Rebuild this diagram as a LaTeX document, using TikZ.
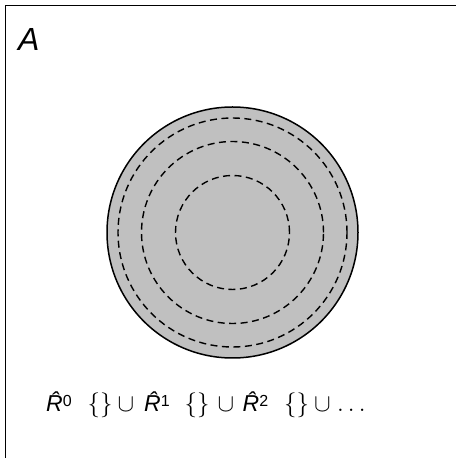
\documentclass[tikz,border=0pt]{standalone}
\usepackage{amsmath}
\usepackage{fontspec}
\setmainfont{Liberation Sans}
\definecolor{discgray}{RGB}{192,192,192}
\newcommand{\Rsup}[1]{{\itshape\^{R}}\raisebox{5.5pt}{\fontsize{16}{16}\selectfont #1}}
\tikzset{
  frameline/.style={line width=1.5pt},
  disc/.style={circle, draw, fill=discgray, line width=1.5pt, minimum size=251pt, inner sep=0pt},
  ring/.style={circle, draw, line width=1.4pt, dash pattern=on 7pt off 4.5pt, inner sep=0pt},
}
\begin{document}
\begin{tikzpicture}[x=1pt,y=1pt]
\useasboundingbox (0,0) rectangle (456,458);
\draw[frameline] (5.5,0) -- (5.5,452.5) -- (456,452.5);
\node[disc] (d) at (232.5,225.5) {};
\node[ring, minimum size=229pt] (r3) at (d.center) {};
\node[ring, minimum size=182pt] (r2) at (d.center) {};
\node[ring, minimum size=114pt] (r1) at (d.center) {};
\node[anchor=base west, inner sep=0pt, font=\fontsize{32}{38}\selectfont\itshape] (lab) at (18,407) {A};
\node[anchor=base west, inner sep=0pt, font=\fontsize{23}{28}\selectfont] (form) at (46,46)
  {\Rsup{0}\hspace{16pt}$\{\}$\hspace{5pt}$\cup$\hspace{10pt}\Rsup{1}\hspace{15pt}$\{\}$\hspace{8pt}$\cup$\hspace{8.5pt}\Rsup{2}\hspace{16pt}$\{\}$\hspace{5pt}$\cup$\hspace{6.5pt}$\ldots$};
\end{tikzpicture}
\end{document}
